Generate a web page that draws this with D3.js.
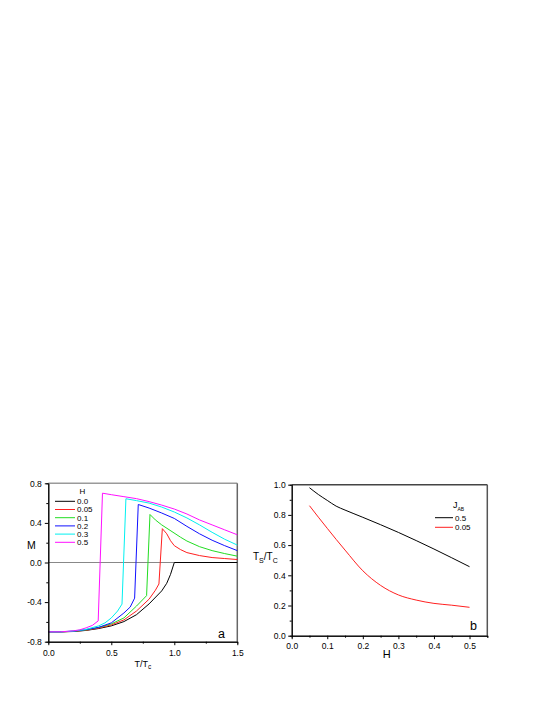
<html lang="en">
<head>
    <meta charset="utf-8">
    <title>M vs T/Tc and Ts/Tc vs H</title>
    <style>
        body {
            margin: 0;
            background: white;
        }

        svg {
            display: block;
            font-family: "Liberation Sans", Arial, sans-serif;
        }

        .tick text {
            font-size: 8.5px;
        }

        .axis path {
            stroke: black;
        }

        .series {
            fill: none;
            stroke-width: 1;
        }
    </style>
</head>
<body>
<svg id="chart" width="545" height="705"></svg>
<script src="https://d3js.org/d3.v7.min.js"></script>
<script>
    // panel a : M against T/Tc for several fields H
    const hLabels = ["0.0", "0.05", "0.1", "0.2", "0.3", "0.5"];
    const hColors = ["#000000", "#ff2020", "#22dd22", "#1010ff", "#00f0f0", "#ff10ff"];

    const t00 = [0, 0.1, 0.2, 0.3, 0.4, 0.5, 0.6, 0.7, 0.8, 0.9, 0.94, 0.97, 1.0, 1.5];
    const m00 = [-0.7, -0.7, -0.697, -0.686, -0.667, -0.64, -0.597, -0.527, -0.418, -0.287, -0.21, -0.12, 0, 0];

    const t05 = [0, 0.1, 0.2, 0.3, 0.4, 0.5, 0.6, 0.7, 0.8, 0.85, 0.878, 0.905, 0.94, 0.97, 1.0, 1.05, 1.1, 1.2, 1.3, 1.4, 1.5];
    const m05 = [-0.7, -0.7, -0.696, -0.684, -0.662, -0.63, -0.58, -0.49, -0.37, -0.28, -0.217, 0.342, 0.29, 0.22, 0.17, 0.13, 0.1, 0.07, 0.05, 0.04, 0.03];

    const t10 = [0, 0.1, 0.2, 0.3, 0.4, 0.5, 0.6, 0.7, 0.78, 0.807, 0.85, 0.9, 0.966, 1.05, 1.1, 1.2, 1.3, 1.4, 1.5];
    const m10 = [-0.7, -0.7, -0.695, -0.681, -0.656, -0.62, -0.56, -0.44, -0.335, 0.485, 0.43, 0.38, 0.325, 0.255, 0.217, 0.16, 0.12, 0.09, 0.064];

    const t20 = [0, 0.1, 0.2, 0.3, 0.4, 0.5, 0.6, 0.65, 0.685, 0.714, 0.8, 0.9, 1.0, 1.1, 1.2, 1.3, 1.4, 1.5];
    const m20 = [-0.7, -0.7, -0.694, -0.678, -0.655, -0.61, -0.51, -0.45, -0.36, 0.586, 0.55, 0.5, 0.445, 0.365, 0.29, 0.225, 0.17, 0.12];

    const t30 = [0, 0.1, 0.2, 0.3, 0.4, 0.45, 0.5, 0.55, 0.585, 0.616, 0.7, 0.8, 0.9, 1.0, 1.1, 1.2, 1.3, 1.4, 1.5];
    const m30 = [-0.7, -0.7, -0.692, -0.675, -0.64, -0.61, -0.56, -0.49, -0.42, 0.644, 0.625, 0.6, 0.56, 0.51, 0.45, 0.38, 0.305, 0.235, 0.176];

    const t50 = [0, 0.1, 0.2, 0.25, 0.3, 0.35, 0.396, 0.43, 0.5, 0.6, 0.7, 0.8, 0.9, 1.0, 1.1, 1.2, 1.3, 1.4, 1.5];
    const m50 = [-0.7, -0.7, -0.69, -0.68, -0.66, -0.635, -0.59, 0.7, 0.685, 0.665, 0.645, 0.615, 0.58, 0.54, 0.49, 0.43, 0.38, 0.33, 0.28];

    const tTicks = [0, 0.5, 1.0, 1.5];
    const tMinor = [0.25, 0.75, 1.25];
    const mTicks = [-0.8, -0.4, 0.0, 0.4, 0.8];
    const mMinor = [-0.6, -0.2, 0.2, 0.6];

    // panel b : Ts/Tc against H for two couplings J_AB
    const jLabels = ["0.5", "0.05"];
    const jColors = ["#000000", "#ff2020"];
    const hB = [0.05, 0.075, 0.1, 0.125, 0.15, 0.2, 0.25, 0.3, 0.35, 0.4, 0.45, 0.5];
    const ts05 = [0.98, 0.935, 0.896, 0.858, 0.832, 0.784, 0.735, 0.684, 0.63, 0.574, 0.516, 0.457];
    const ts005 = [0.861, 0.785, 0.711, 0.638, 0.567, 0.43, 0.333, 0.27, 0.236, 0.214, 0.202, 0.188];

    const hTicks = [0, 0.1, 0.2, 0.3, 0.4, 0.5];
    const hMinor = [0.05, 0.15, 0.25, 0.35, 0.45, 0.55];
    const tsTicks = [0, 0.2, 0.4, 0.6, 0.8, 1.0];
    const tsMinor = [0.1, 0.3, 0.5, 0.7, 0.9];

    const svg = d3.select("#chart");
    const fmt = d => d.toFixed(1);

    function frame(g, x, y, topColor, rightColor)
    {
        const [x0, x1] = x.range();
        const [y0, y1] = y.range();
        g.append("line").attr("x1", x0).attr("x2", x1).attr("y1", y1).attr("y2", y1)
            .attr("stroke", topColor).attr("stroke-width", 1.5);
        g.append("line").attr("x1", x1).attr("x2", x1).attr("y1", y1).attr("y2", y0)
            .attr("stroke", rightColor).attr("stroke-width", 1.5);
    }

    function axes(g, x, y, xt, xm, yt, ym, padX, padY)
    {
        const [y0] = y.range();
        const [x0] = x.range();
        g.append("g").attr("class", "axis").attr("transform", `translate(0,${y0})`)
            .call(d3.axisBottom(x).tickValues(xm).tickSize(2).tickFormat(""));
        g.append("g").attr("class", "axis").attr("transform", `translate(${x0},0)`)
            .call(d3.axisLeft(y).tickValues(ym).tickSize(2).tickFormat(""));
        g.append("g").attr("class", "axis").attr("transform", `translate(0,${y0})`)
            .call(d3.axisBottom(x).tickValues(xt).tickSize(3.5).tickSizeOuter(0).tickPadding(padX).tickFormat(fmt));
        g.append("g").attr("class", "axis").attr("transform", `translate(${x0},0)`)
            .call(d3.axisLeft(y).tickValues(yt).tickSize(3.5).tickSizeOuter(0).tickPadding(padY).tickFormat(fmt));
    }

    // ---- panel a
    const xA = d3.scaleLinear().domain([0, 1.5]).range([48.3, 237.3]);
    const yA = d3.scaleLinear().domain([-0.8, 0.8]).range([641.7, 483.3]);
    const gA = svg.append("g");

    frame(gA, xA, yA, "#9a9a9a", "#666");
    gA.append("line").attr("x1", xA(0)).attr("x2", xA(1.5)).attr("y1", yA(0)).attr("y2", yA(0))
        .attr("stroke", "#888").attr("stroke-width", 1.2);

    const seriesA = [[t00, m00], [t05, m05], [t10, m10], [t20, m20], [t30, m30], [t50, m50]];
    const lineA = d3.line().x(d => xA(d[0])).y(d => yA(d[1]));
    seriesA.forEach(([t, m], i) =>
    {
        gA.append("path").attr("class", "series")
            .datum(t.map((v, k) => [v, m[k]]))
            .attr("stroke", hColors[i])
            .attr("d", lineA);
    });

    axes(gA, xA, yA, tTicks, tMinor, mTicks, mMinor, 5, 3);

    // legend a
    gA.append("text").attr("x", 82.5).attr("y", 494).attr("text-anchor", "middle")
        .attr("font-size", 8).text("H");
    hLabels.forEach((lab, i) =>
    {
        const yy = 501.3 + i * 8.2;
        gA.append("line").attr("x1", 55).attr("x2", 75).attr("y1", yy).attr("y2", yy)
            .attr("stroke", hColors[i]).attr("stroke-width", 1);
        gA.append("text").attr("x", 77).attr("y", yy + 2.8).attr("font-size", 8).text(lab);
    });

    gA.append("text").attr("x", 27).attr("y", 548.5).attr("font-size", 10.5).text("M");
    const xlabA = gA.append("text").attr("x", 142.8).attr("y", 666.5).attr("text-anchor", "middle")
        .attr("font-size", 9);
    xlabA.append("tspan").text("T/T");
    xlabA.append("tspan").attr("font-size", 6.5).attr("dy", 2.5).text("c");
    gA.append("text").attr("x", 218).attr("y", 637.5).attr("font-size", 12.5).text("a");

    // ---- panel b
    const xB = d3.scaleLinear().domain([0, 0.55]).range([291.7, 487.3]);
    const yB = d3.scaleLinear().domain([0, 1.0]).range([635.7, 484.7]);
    const gB = svg.append("g");

    frame(gB, xB, yB, "#444", "#555");

    const lineB = d3.line().curve(d3.curveMonotoneX).x(d => xB(d[0])).y(d => yB(d[1]));
    [ts05, ts005].forEach((ts, i) =>
    {
        gB.append("path").attr("class", "series")
            .datum(hB.map((h, k) => [h, ts[k]]))
            .attr("stroke", jColors[i])
            .attr("d", lineB);
    });

    axes(gB, xB, yB, hTicks, hMinor, tsTicks, tsMinor, 3.3, 2.5);

    // legend b
    const jt = gB.append("text").attr("x", 453).attr("y", 508).attr("font-size", 9);
    jt.append("tspan").text("J");
    jt.append("tspan").attr("font-size", 5).attr("dy", 2.5).text("AB");
    jLabels.forEach((lab, i) =>
    {
        const yy = 517.7 + i * 9.6;
        gB.append("line").attr("x1", 435).attr("x2", 453).attr("y1", yy).attr("y2", yy)
            .attr("stroke", jColors[i]).attr("stroke-width", 1);
        gB.append("text").attr("x", 455).attr("y", yy + 3).attr("font-size", 8).text(lab);
    });

    const ylabB = gB.append("text").attr("x", 253).attr("y", 559.5).attr("font-size", 10);
    ylabB.append("tspan").text("T");
    ylabB.append("tspan").attr("font-size", 7).attr("dy", 3.5).text("S");
    ylabB.append("tspan").attr("dy", -3.5).text("/T");
    ylabB.append("tspan").attr("font-size", 7).attr("dy", 3.5).text("C");

    gB.append("text").attr("x", 386.7).attr("y", 658.3).attr("text-anchor", "middle")
        .attr("font-size", 11).text("H");
    gB.append("text").attr("x", 470).attr("y", 629.5).attr("font-size", 12.5).text("b");
</script>
</body>
</html>
